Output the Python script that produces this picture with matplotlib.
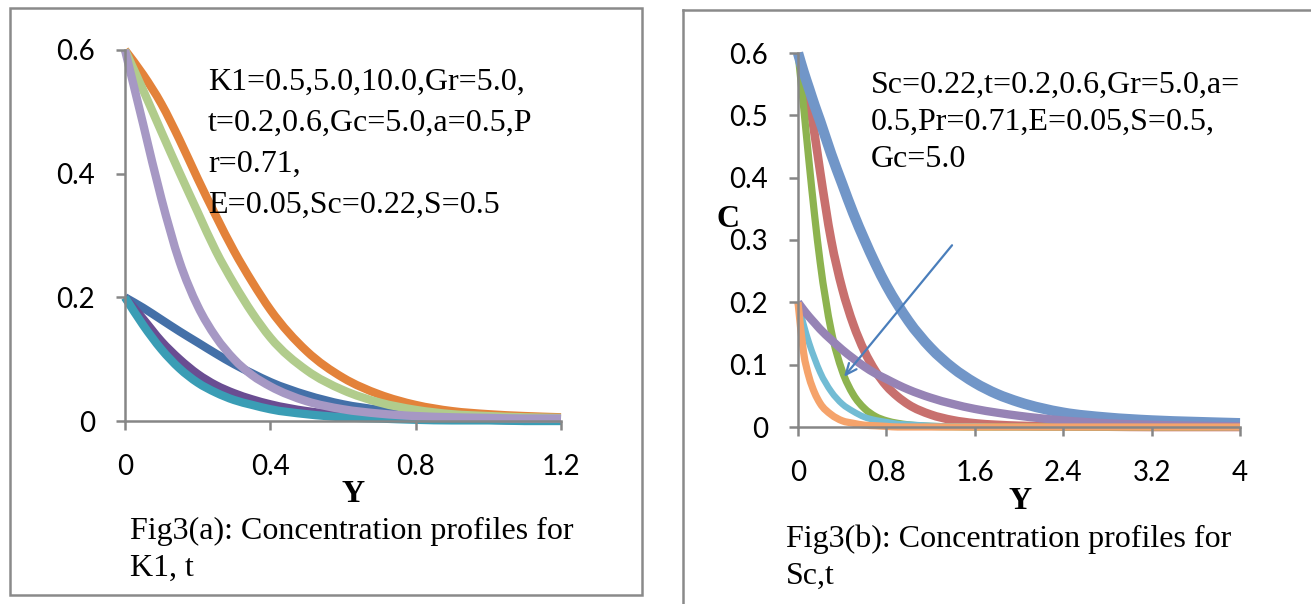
import matplotlib
matplotlib.use("Agg")
import matplotlib.pyplot as plt
from matplotlib.patches import Rectangle, PathPatch
from matplotlib.lines import Line2D
from matplotlib.path import Path

# ---- data ----
# Fig3(a): concentration profiles for K1, t
Y_A = [0, 0.05, 0.1, 0.15, 0.2, 0.25, 0.3, 0.35, 0.4, 0.5, 0.6, 0.7, 0.8, 0.9, 1.0, 1.1, 1.2]
C_A_BLUE = [0.2, 0.183, 0.164, 0.145, 0.127, 0.109, 0.092, 0.077, 0.063, 0.042, 0.027, 0.018, 0.012, 0.008, 0.005, 0.004, 0.003]
C_A_DPURPLE = [0.2, 0.165, 0.129, 0.1, 0.076, 0.058, 0.045, 0.035, 0.027, 0.016, 0.01, 0.006, 0.004, 0.003, 0.002, 0.001, 0.001]
C_A_TEAL = [0.2, 0.155, 0.116, 0.085, 0.062, 0.046, 0.034, 0.026, 0.019, 0.011, 0.006, 0.004, 0.002, 0.001, 0.001, 0.0, 0.0]
C_A_ORANGE = [0.6, 0.56, 0.513, 0.455, 0.392, 0.332, 0.275, 0.225, 0.18, 0.113, 0.07, 0.043, 0.026, 0.016, 0.011, 0.008, 0.006]
C_A_GREEN = [0.6, 0.535, 0.468, 0.402, 0.338, 0.275, 0.222, 0.175, 0.135, 0.082, 0.05, 0.03, 0.018, 0.011, 0.008, 0.006, 0.005]
C_A_LPURPLE = [0.6, 0.48, 0.36, 0.258, 0.186, 0.136, 0.1, 0.074, 0.056, 0.032, 0.019, 0.012, 0.008, 0.006, 0.005, 0.004, 0.004]

# Fig3(b): concentration profiles for Sc, t
Y_B = [0, 0.05, 0.1, 0.15, 0.2, 0.3, 0.4, 0.5, 0.6, 0.7, 0.8, 0.9, 1.0, 1.2, 1.4, 1.6, 1.8, 2.0, 2.4, 2.8, 3.2, 3.6, 4.0]
C_B_RED = [0.6, 0.568, 0.525, 0.47, 0.41, 0.3, 0.222, 0.165, 0.122, 0.09, 0.066, 0.049, 0.036, 0.02, 0.011, 0.006, 0.0035, 0.002, 0.001, 0.0005, 0.0, 0.0, 0.0]
C_B_GREEN = [0.6, 0.515, 0.425, 0.34, 0.265, 0.155, 0.09, 0.052, 0.03, 0.017, 0.01, 0.006, 0.0035, 0.001, 0.0005, 0.0, 0.0, 0.0, 0.0, 0.0, 0.0, 0.0, 0.0]
C_B_CYAN = [0.2, 0.165, 0.135, 0.11, 0.088, 0.057, 0.037, 0.025, 0.016, 0.011, 0.008, 0.005, 0.004, 0.002, 0.001, 0.001, 0.0, 0.0, 0.0, 0.0, 0.0, 0.0, 0.0]
C_B_BLUE = [0.6, 0.57, 0.543, 0.516, 0.491, 0.438, 0.39, 0.343, 0.301, 0.262, 0.227, 0.197, 0.17, 0.127, 0.095, 0.071, 0.053, 0.04, 0.023, 0.015, 0.0105, 0.008, 0.006]
C_B_PURPLE = [0.2, 0.188, 0.177, 0.167, 0.157, 0.14, 0.124, 0.11, 0.097, 0.086, 0.077, 0.068, 0.06, 0.047, 0.037, 0.029, 0.023, 0.018, 0.0105, 0.006, 0.0035, 0.002, 0.0012]
C_B_ORANGE = [0.2, 0.12, 0.08, 0.055, 0.038, 0.02, 0.01, 0.006, 0.003, 0.002, 0.001, 0.0, 0.0, 0.0, 0.0, 0.0, 0.0, 0.0, 0.0, 0.0, 0.0, 0.0, 0.0]

XTICKS_A = [0, 0.4, 0.8, 1.2]
YTICKS_A = [0, 0.2, 0.4, 0.6]
XTICKS_B = [0, 0.8, 1.6, 2.4, 3.2, 4]
YTICKS_B = [0, 0.1, 0.2, 0.3, 0.4, 0.5, 0.6]

W, H = 1311, 604
AXIS_GRAY = "#868686"
SERIF = "Liberation Serif"
SANS = "Lato"


def fx(px):
    return px / W


def fy(py):
    return 1 - py / H


def tick_text(v):
    return "0" if v == 0 else f"{v:g}"


def smooth_line(ax, xs, ys, color, lw):
    # smoothed line like Excel's: cubic Bezier pieces through every data point
    n = len(xs)
    slopes = [(ys[i + 1] - ys[i]) / (xs[i + 1] - xs[i]) for i in range(n - 1)]
    tang = [slopes[0]]
    for i in range(1, n - 1):
        h0, h1 = xs[i] - xs[i - 1], xs[i + 1] - xs[i]
        if slopes[i - 1] * slopes[i] <= 0:
            tang.append(0.0)
        else:
            tang.append((slopes[i - 1] * h1 + slopes[i] * h0) / (h0 + h1))
    tang.append(slopes[-1])
    verts = [(xs[0], ys[0])]
    codes = [Path.MOVETO]
    for i in range(n - 1):
        h = xs[i + 1] - xs[i]
        c1 = (xs[i] + h / 3, max(ys[i] + tang[i] * h / 3, 0))
        c2 = (xs[i + 1] - h / 3, max(ys[i + 1] - tang[i + 1] * h / 3, 0))
        verts += [c1, c2, (xs[i + 1], ys[i + 1])]
        codes += [Path.CURVE4] * 3
    patch = PathPatch(Path(verts, codes), fill=False, ec=color, lw=lw,
                      capstyle="butt", joinstyle="round", clip_on=False)
    ax.add_patch(patch)


def style_axes(ax, xticks, yticks, xmax):
    ax.set_xlim(0, xmax)
    ax.set_ylim(0, 0.6)
    for side in ("top", "right"):
        ax.spines[side].set_visible(False)
    for side in ("left", "bottom"):
        ax.spines[side].set_color(AXIS_GRAY)
        ax.spines[side].set_linewidth(1.8)
    ax.set_xticks(xticks)
    ax.set_yticks(yticks)
    ax.set_xticklabels([tick_text(v) for v in xticks], fontfamily=SANS, fontsize=20)
    ax.set_yticklabels([tick_text(v) for v in yticks], fontfamily=SANS, fontsize=20)
    ax.tick_params(direction="out", length=6.5, width=1.8, color=AXIS_GRAY)
    ax.tick_params(axis="x", pad=17)
    ax.tick_params(axis="y", pad=15)
    ax.patch.set_alpha(0)


fig = plt.figure(figsize=(W / 100, H / 100), dpi=100)

# panel frames
fig.add_artist(Rectangle((fx(10), fy(595)), fx(642) - fx(10), fy(8) - fy(595),
                         transform=fig.transFigure, fill=False, ec="#8a8a8a", lw=1.8))
fig.add_artist(Line2D([fx(683), fx(683)], [fy(640), fy(10)], transform=fig.transFigure,
                      color="#8a8a8a", lw=1.8))
fig.add_artist(Line2D([fx(683), fx(1340)], [fy(10), fy(10)], transform=fig.transFigure,
                      color="#8a8a8a", lw=1.8))

# ---- Fig3(a) ----
axA = fig.add_axes([fx(125), fy(421), fx(561) - fx(125), fy(50) - fy(421)])
style_axes(axA, XTICKS_A, YTICKS_A, 1.2)
for vals, col in [
    (C_A_BLUE, "#4470a8"),
    (C_A_DPURPLE, "#6a4d92"),
    (C_A_TEAL, "#3a9db5"),
    (C_A_ORANGE, "#e3823a"),
    (C_A_GREEN, "#b1cc8c"),
    (C_A_LPURPLE, "#a698c4"),
]:
    smooth_line(axA, Y_A, vals, col, 6.0)

for i, line in enumerate(["K1=0.5,5.0,10.0,Gr=5.0,", "t=0.2,0.6,Gc=5.0,a=0.5,P",
                          "r=0.71,", "E=0.05,Sc=0.22,S=0.5"]):
    fig.text(fx(208), fy(90 + 41 * i), line, family=SERIF, size=23, va="baseline")
fig.text(fx(353), fy(502), "Y", family=SERIF, weight="bold", size=23, ha="center", va="baseline")
fig.text(fx(130), fy(539), "Fig3(a): Concentration profiles for", family=SERIF, size=23, va="baseline")
fig.text(fx(130), fy(576), "K1, t", family=SERIF, size=23, va="baseline")

# ---- Fig3(b) ----
axB = fig.add_axes([fx(798), fy(427), fx(1240) - fx(798), fy(53) - fy(427)])
style_axes(axB, XTICKS_B, YTICKS_B, 4)
for vals, col, lw in [
    (C_B_RED, "#c8706e", 6.2),
    (C_B_GREEN, "#8db34f", 5.2),
    (C_B_CYAN, "#72bcd4", 4.6),
    (C_B_BLUE, "#7196c8", 7.5),
    (C_B_PURPLE, "#9683b5", 6.0),
    (C_B_ORANGE, "#f5a36b", 5.2),
]:
    smooth_line(axB, Y_B, vals, col, lw)

axB.annotate("", xy=(0.40, 0.077), xytext=(1.41, 0.295),
             arrowprops=dict(arrowstyle="->,head_length=0.8,head_width=0.35",
                             color="#4a7ebb", lw=1.6))

for i, line in enumerate(["Sc=0.22,t=0.2,0.6,Gr=5.0,a=", "0.5,Pr=0.71,E=0.05,S=0.5,", "Gc=5.0"]):
    fig.text(fx(871), fy(93 + 37 * i), line, family=SERIF, size=23, va="baseline")
fig.text(fx(728), fy(227), "C", family=SERIF, weight="bold", size=23, ha="center", va="baseline")
fig.text(fx(1020), fy(509), "Y", family=SERIF, weight="bold", size=23, ha="center", va="baseline")
fig.text(fx(786), fy(547), "Fig3(b): Concentration profiles for", family=SERIF, size=23, va="baseline")
fig.text(fx(786), fy(584), "Sc,t", family=SERIF, size=23, va="baseline")

fig.savefig("out.png", dpi=100)
